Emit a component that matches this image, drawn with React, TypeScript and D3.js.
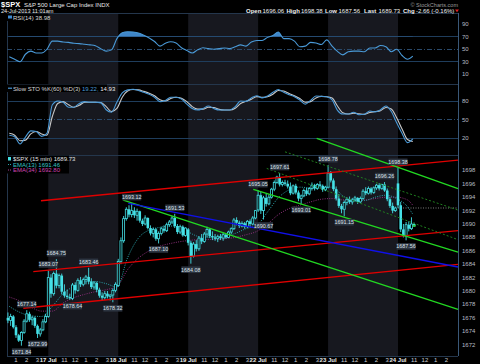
import React from "react";
import * as d3 from "d3";

// 15-min bars, index 0 = 17 Jul 9:30 (16 Jul afternoon is negative)
const firstBar = -15;
const opens = [
  1676.0, 1675.6, 1676.2, 1674.6, 1673.4, 1672.6, 1673.8, 1675.5, 1676.6, 1675.7, 1676.0, 1674.8, 1673.6, 1674.2, 1675.4,
  1676.2, 1682.0, 1679.6, 1682.6, 1680.8, 1682.3, 1679.9, 1679.3, 1679.1, 1678.9, 1680.9, 1680.1, 1681.6, 1681.0, 1681.7, 1682.1, 1681.4, 1680.6, 1681.2, 1680.2, 1679.3, 1679.0, 1679.6, 1679.2, 1679.4, 1680.1,
  1680.8, 1684.4, 1687.5, 1690.8, 1692.2, 1691.4, 1692.0, 1691.3, 1691.9, 1690.5, 1690.0, 1690.9, 1689.4, 1688.6, 1689.2, 1687.8, 1688.6, 1689.3, 1689.0, 1689.9, 1690.3, 1690.9, 1689.7, 1688.8, 1689.6, 1688.3,
  1689.2, 1687.2, 1685.2, 1687.0, 1686.3, 1687.9, 1687.4, 1688.5, 1689.2, 1688.2, 1688.0, 1687.8, 1688.1, 1687.9, 1688.4, 1688.0, 1688.8, 1689.3, 1690.6, 1690.2, 1689.7, 1690.1, 1689.6, 1690.4, 1690.0, 1690.9,
  1692.1, 1694.3, 1692.0, 1693.9, 1693.0, 1694.0, 1695.2, 1696.2, 1697.0, 1695.9, 1696.2, 1696.0, 1695.6, 1694.6, 1695.7, 1694.7, 1693.8, 1694.2, 1695.0, 1694.5, 1695.3, 1695.8, 1695.3, 1695.9, 1695.7, 1695.1,
  1695.5, 1697.6, 1696.5, 1695.2, 1693.8, 1692.7, 1692.2, 1693.2, 1693.7, 1693.3, 1693.6, 1693.9, 1693.3, 1693.8, 1694.9, 1694.6, 1695.3, 1694.7, 1695.4, 1695.8, 1695.3, 1695.9, 1695.0, 1693.7, 1692.7, 1692.0,
  1696.06, 1692.8, 1689.2, 1688.2, 1689.9, 1689.3, 1690.0,
];
const highs = [
  1676.8, 1676.6, 1676.4, 1674.9, 1673.6, 1674.0, 1675.8, 1677.14, 1676.9, 1676.3, 1676.2, 1675.0, 1674.5, 1675.8, 1676.6,
  1683.07, 1682.5, 1682.9, 1684.75, 1682.6, 1682.6, 1681.0, 1680.2, 1679.6, 1681.2, 1681.3, 1681.9, 1682.1, 1682.0, 1682.4, 1683.46, 1681.9, 1681.5, 1681.4, 1680.5, 1679.8, 1680.0, 1680.0, 1679.5, 1680.4, 1681.3,
  1684.8, 1688.0, 1691.2, 1692.5, 1692.8, 1693.12, 1692.5, 1692.3, 1692.0, 1690.8, 1691.3, 1691.0, 1689.8, 1689.5, 1689.4, 1688.9, 1689.6, 1689.8, 1690.2, 1690.6, 1691.2, 1691.53, 1690.0, 1689.9, 1689.8, 1689.5,
  1689.4, 1687.5, 1687.3, 1687.6, 1688.2, 1688.5, 1688.8, 1689.6, 1689.4, 1688.9, 1688.5, 1688.4, 1688.5, 1688.7, 1688.6, 1689.0, 1689.5, 1690.9, 1691.0, 1690.5, 1690.4, 1690.3, 1690.6, 1690.7, 1691.2, 1692.1,
  1695.05, 1694.8, 1694.2, 1694.5, 1694.4, 1695.4, 1696.5, 1697.2, 1697.61, 1696.5, 1696.6, 1696.5, 1696.2, 1695.9, 1696.0, 1695.0, 1694.4, 1695.3, 1695.4, 1695.5, 1696.2, 1696.0, 1696.1, 1696.4, 1695.9, 1695.7,
  1698.78, 1697.9, 1696.8, 1695.6, 1694.5, 1693.0, 1693.5, 1694.0, 1694.1, 1693.9, 1694.2, 1694.0, 1694.1, 1695.2, 1695.5, 1695.6, 1695.5, 1695.6, 1696.0, 1696.1, 1696.0, 1696.26, 1695.3, 1694.0, 1693.2, 1692.6,
  1698.38, 1693.3, 1690.0, 1690.3, 1690.4, 1691.0, 1690.2,
];
const lows = [
  1675.2, 1674.8, 1674.4, 1673.0, 1672.4, 1671.84, 1673.6, 1675.3, 1675.4, 1674.9, 1674.5, 1672.99, 1673.2, 1674.0, 1675.2,
  1676.0, 1679.0, 1679.3, 1680.4, 1680.4, 1679.5, 1679.0, 1678.8, 1678.7, 1678.64, 1679.6, 1679.9, 1680.6, 1680.7, 1681.0, 1681.0, 1680.3, 1680.2, 1679.8, 1679.0, 1678.6, 1678.7, 1678.9, 1678.6, 1678.32, 1679.8,
  1680.6, 1684.0, 1687.2, 1690.5, 1691.0, 1691.0, 1690.9, 1690.5, 1690.2, 1689.7, 1689.8, 1689.2, 1688.3, 1688.0, 1687.5, 1687.1, 1688.3, 1688.7, 1688.8, 1689.6, 1690.0, 1689.4, 1688.5, 1688.5, 1688.1, 1688.1,
  1686.8, 1684.08, 1685.0, 1685.9, 1686.0, 1687.0, 1687.2, 1688.0, 1687.9, 1687.6, 1687.5, 1687.3, 1687.6, 1687.5, 1687.8, 1687.9, 1688.5, 1689.1, 1689.8, 1689.4, 1689.5, 1689.3, 1689.4, 1689.6, 1689.8, 1690.7,
  1691.8, 1691.5, 1690.67, 1692.6, 1692.8, 1693.8, 1694.9, 1696.0, 1695.6, 1695.6, 1695.7, 1695.3, 1694.3, 1694.4, 1694.4, 1693.4, 1693.01, 1694.0, 1694.2, 1694.3, 1695.0, 1695.0, 1695.1, 1695.5, 1694.8, 1694.9,
  1695.3, 1696.2, 1694.9, 1693.5, 1692.4, 1691.6, 1691.15, 1692.8, 1693.0, 1692.9, 1693.3, 1693.0, 1693.1, 1693.6, 1694.3, 1694.4, 1694.4, 1694.5, 1695.1, 1695.0, 1695.1, 1694.8, 1693.4, 1692.4, 1691.6, 1691.8,
  1692.4, 1688.8, 1688.0, 1687.56, 1688.9, 1689.1, 1689.6,
];
const closes = [
  1675.6, 1676.2, 1674.6, 1673.4, 1672.6, 1673.8, 1675.5, 1676.6, 1675.7, 1676.0, 1674.8, 1673.6, 1674.2, 1675.4, 1676.2,
  1682.0, 1679.6, 1682.6, 1680.8, 1682.3, 1679.9, 1679.3, 1679.1, 1678.9, 1680.9, 1680.1, 1681.6, 1681.0, 1681.7, 1682.1, 1681.4, 1680.6, 1681.2, 1680.2, 1679.3, 1679.0, 1679.6, 1679.2, 1679.4, 1680.1, 1681.0,
  1684.4, 1687.5, 1690.8, 1692.2, 1691.4, 1692.0, 1691.3, 1691.9, 1690.5, 1690.0, 1690.9, 1689.4, 1688.6, 1689.2, 1687.8, 1688.6, 1689.3, 1689.0, 1689.9, 1690.3, 1690.9, 1689.7, 1688.8, 1689.6, 1688.3, 1689.4,
  1687.2, 1685.2, 1687.0, 1686.3, 1687.9, 1687.4, 1688.5, 1689.2, 1688.2, 1688.0, 1687.8, 1688.1, 1687.9, 1688.4, 1688.0, 1688.8, 1689.3, 1690.6, 1690.2, 1689.7, 1690.1, 1689.6, 1690.4, 1690.0, 1690.9, 1692.0,
  1694.3, 1692.0, 1693.9, 1693.0, 1694.0, 1695.2, 1696.2, 1697.0, 1695.9, 1696.2, 1696.0, 1695.6, 1694.6, 1695.7, 1694.7, 1693.8, 1694.2, 1695.0, 1694.5, 1695.3, 1695.8, 1695.3, 1695.9, 1695.7, 1695.1, 1695.5,
  1697.6, 1696.5, 1695.2, 1693.8, 1692.7, 1692.2, 1693.2, 1693.7, 1693.3, 1693.6, 1693.9, 1693.3, 1693.8, 1694.9, 1694.6, 1695.3, 1694.7, 1695.4, 1695.8, 1695.3, 1695.9, 1695.0, 1693.7, 1692.7, 1692.0, 1692.39,
  1692.8, 1689.2, 1688.2, 1689.9, 1689.3, 1690.0, 1689.73,
];

// indicators read every 2 bars (RSI, STO) / every 4 bars (EMAs)
const rsi = [38, 34, 30, 42, 47, 44, 44, 50, 63, 63, 61.5, 61, 59.5, 59, 58, 57, 55.5, 51, 47, 49, 67, 76.5, 78, 77.5, 76, 72.5, 68, 62.5, 55, 59.5, 62, 60, 52.5, 48, 44, 49, 52.5, 51, 50, 51, 52, 51, 54, 57, 55, 61.5, 64, 64, 69, 72, 77.5, 67, 67, 63, 54, 55, 61, 60, 57.5, 65, 55, 46.5, 41, 46, 47, 47, 46, 52, 52, 56, 54, 46, 50, 40, 34, 38.98];
const stoK = [25, 22.5, 11, 22, 32, 31, 23, 28, 74, 80, 78, 70, 70, 76, 79, 78, 78, 77, 66, 62, 78, 93, 98, 99, 97, 94, 91, 86, 79, 81, 86, 86, 83, 75, 68, 65.5, 68, 72, 68, 65.5, 65.5, 65.5, 71, 80, 79.5, 85, 88.5, 85, 88, 94, 98.5, 94, 90, 87, 81.6, 75, 81, 88, 87.5, 87, 82, 65, 59, 59, 62, 58, 58.6, 64, 62.5, 66, 72, 63, 45, 28, 13, 19.22];
const stoD = [28, 25, 16, 17, 27, 31, 27, 25, 55, 76, 79, 74, 70, 73, 78, 78, 78, 77.5, 71, 63, 68, 86, 96, 98.5, 98, 95.5, 92.5, 88.5, 82, 80, 84, 86, 84.5, 79, 71, 67, 67, 70, 69.5, 66.5, 65.5, 65.5, 68.5, 76, 79.5, 83, 87, 86, 87, 91, 97, 96, 92, 88.5, 84, 78, 79, 85, 87.5, 87, 85, 72, 61, 59, 60.5, 59.5, 58.5, 61.5, 63, 64.5, 69.5, 67, 53, 35, 18, 14.93];
const ema13 = [1677.7, 1676.8, 1676.3, 1676.2, 1677.7, 1679.6, 1680.7, 1681.4, 1681.4, 1681.1, 1680.6, 1685.0, 1687.9, 1689.1, 1689.5, 1689.7, 1689.5, 1688.5, 1688.0, 1688.1, 1688.2, 1688.6, 1689.3, 1689.8, 1691.8, 1693.9, 1695.1, 1695.5, 1695.4, 1695.5, 1695.5, 1694.2, 1693.5, 1693.5, 1694.0, 1694.3, 1693.8, 1692.6, 1691.46];
const ema34 = [1679.1, 1678.5, 1677.6, 1677.0, 1677.0, 1678.2, 1679.0, 1679.5, 1679.9, 1680.2, 1680.7, 1683.2, 1684.9, 1686.0, 1686.7, 1687.1, 1687.4, 1687.6, 1687.7, 1687.7, 1687.8, 1688.0, 1688.4, 1688.9, 1690.0, 1691.4, 1692.3, 1692.8, 1693.3, 1693.7, 1693.8, 1693.6, 1693.6, 1693.6, 1693.8, 1694.0, 1694.0, 1693.6, 1692.8];

const days = ["17 Jul", "18 Jul", "19 Jul", "22 Jul", "23 Jul", "24 Jul"];
const shadedDays = ["17 Jul", "19 Jul", "23 Jul"];
const hourLabels = ["11", "12", "1", "2", "3"];
const priceTicks = d3.range(1672, 1699, 2);
const rsiTicks = [90, 70, 50, 30, 10];
const stoTicks = [80, 50, 20];
const prevClose = 1692.39;

// annotated extremes: bar index, high or low
const marks: [number, string][] = [[-10, "L"], [-4, "L"], [-8, "H"], [0, "H"], [3, "H"], [9, "L"], [15, "H"], [24, "L"], [31, "H"], [41, "L"], [47, "H"], [53, "L"], [78, "H"], [80, "L"], [86, "H"], [94, "L"], [104, "H"], [110, "L"], [125, "H"], [130, "H"], [133, "L"]];

// trendlines: [bar, price, bar, price]
const redLines = [[-2.71, 1693.47, 152.3, 1699.53], [-5.58, 1682.89, 152.3, 1689.01], [-9.29, 1677.43, 152.3, 1683.96]];
const blueLines = [[29.74, 1693.08, 152.3, 1683.59]];
const greenLines = [[27.88, 1693.57, 152.3, 1677.26], [76.2, 1695.17, 152.3, 1685.82], [99.78, 1702.77, 152.3, 1695.29]];
const greenDotted = [[88.0, 1700.77, 152.3, 1692.08], [81.2, 1698.3, 152.3, 1687.66]];

const L = 7, R = 458, TOP = 13, STO_TOP = 84, P_TOP = 155, BOTTOM = 356;
const FONT = "Liberation Sans, Arial, sans-serif";
const CANDLE = "#45e0e6";

const x = d3.scaleLinear().domain([-15.35, 152.3]).range([L, R]);
const yP = d3.scaleLinear().domain([1670.3, 1700.3]).range([BOTTOM, P_TOP]);
const yR = d3.scaleLinear().domain([0, 100]).range([80.5, 18]);
const yS = d3.scaleLinear().domain([0, 100]).range([150.7, 88.6]);

const ind2 = rsi.map((_, k) => -14.5 + 2 * k);
const ind4 = ema13.map((_, k) => (k < ema13.length - 1 ? -14.5 + 4 * k : 135.5));

function App() {
  const bars = opens.map((o, k) => ({ i: firstBar + k, o, h: highs[k], l: lows[k], c: closes[k] }));
  const last = bars[bars.length - 1];

  const rsiLine = d3.line<number>().x((_, k) => x(ind2[k])).y((d) => yR(d)).curve(d3.curveMonotoneX);
  const rsiArea = d3.area<number>().x((_, k) => x(ind2[k])).y0(yR(70)).y1((d) => yR(d)).curve(d3.curveMonotoneX);
  const stoLine = d3.line<number>().x((_, k) => x(ind2[k])).y((d) => yS(d)).curve(d3.curveMonotoneX);
  const emaLine = d3.line<number>().x((_, k) => x(ind4[k])).y((d) => yP(d)).curve(d3.curveMonotoneX);

  const hourTicks: { t: number; s: string }[] = [];
  for (let d = -1; d < days.length; d++) {
    hourLabels.forEach((s, k) => {
      const t = d * 26 + 6 + 4 * k;
      if (x(t) > 10 && x(t) < 452) hourTicks.push({ t, s });
    });
  }

  const seg = (ln: number[], color: string, w: number, dash?: string, key?: string) => (
    <line key={key} x1={x(ln[0])} y1={yP(ln[1])} x2={x(ln[2])} y2={yP(ln[3])} stroke={color} strokeWidth={w} strokeDasharray={dash} />
  );

  return (
    <div style={{ position: "absolute", left: 0, top: 0 }}>
      <svg width={480} height={364} style={{ display: "block", background: "#000", fontFamily: FONT }}>
        <rect width={480} height={364} fill="#000" />
        <defs>
          <clipPath id="above70">
            <rect x={L} y={TOP} width={R - L} height={yR(70) - TOP} />
          </clipPath>
        </defs>

        {/* day shading */}
        {days.map((d, k) =>
          shadedDays.includes(d) ? (
            <rect key={d} x={x(k * 26)} y={TOP} width={x((k + 1) * 26) - x(k * 26)} height={BOTTOM - TOP} fill="#17181f" />
          ) : null
        )}

        {/* panel frames */}
        <g stroke="#24364c" strokeWidth={1} shapeRendering="crispEdges">
          <line x1={L} x2={R} y1={TOP} y2={TOP} />
          <line x1={L} x2={R} y1={STO_TOP} y2={STO_TOP} />
          <line x1={L} x2={R} y1={P_TOP} y2={P_TOP} />
          <line x1={L} x2={R} y1={BOTTOM} y2={BOTTOM} />
          <line x1={L} x2={L} y1={TOP} y2={BOTTOM} />
          <line x1={R} x2={R} y1={TOP} y2={BOTTOM} stroke="#3a5878" />
        </g>
        <g strokeWidth={1} shapeRendering="crispEdges">
          <line x1={L} x2={R} y1={yR(70)} y2={yR(70)} stroke="#1f3d5c" />
          <line x1={L} x2={R} y1={yR(30)} y2={yR(30)} stroke="#1f3d5c" />
          <line x1={L} x2={R} y1={yR(50)} y2={yR(50)} stroke="#2a4a6c" strokeDasharray="5,2,1,2" />
          <line x1={L} x2={R} y1={yS(80)} y2={yS(80)} stroke="#1f3d5c" />
          <line x1={L} x2={R} y1={yS(20)} y2={yS(20)} stroke="#1f3d5c" />
          <line x1={L} x2={R} y1={yS(50)} y2={yS(50)} stroke="#2a4a6c" strokeDasharray="5,2,1,2" />
        </g>

        {/* RSI */}
        <path d={rsiArea(rsi) || ""} fill="#3f86c8" clipPath="url(#above70)" />
        <path d={rsiLine(rsi) || ""} fill="none" stroke="#4a9ad8" strokeWidth={1.1} />

        {/* Slow STO */}
        <path d={stoLine(stoD) || ""} fill="none" stroke="#c8c8c8" strokeWidth={1.1} />
        <path d={stoLine(stoK) || ""} fill="none" stroke="#4a9ad8" strokeWidth={1.1} />

        {/* previous close */}
        <line x1={x(130)} x2={R} y1={yP(prevClose)} y2={yP(prevClose)} stroke="#9a9a9a" strokeWidth={0.8} strokeDasharray="1,1.5" />

        {/* EMAs */}
        <path d={emaLine(ema34) || ""} fill="none" stroke="#8e2f7c" strokeWidth={1} strokeDasharray="1,1.3" />
        <path d={emaLine(ema13) || ""} fill="none" stroke="#2aa3aa" strokeWidth={1} strokeDasharray="1,1.3" />

        {/* candles */}
        {bars.map((b) => {
          const cx = x(b.i);
          const top = yP(Math.max(b.o, b.c));
          const hgt = Math.max(0.8, Math.abs(yP(b.o) - yP(b.c)));
          const up = b.c >= b.o;
          return (
            <g key={b.i}>
              <line x1={cx} x2={cx} y1={yP(b.h)} y2={yP(b.l)} stroke={CANDLE} strokeWidth={0.9} />
              {up ? (
                <rect x={cx - 1} y={top} width={2} height={hgt} fill="#000" stroke={CANDLE} strokeWidth={0.8} />
              ) : (
                <rect x={cx - 1.3} y={top} width={2.6} height={hgt} fill={CANDLE} />
              )}
            </g>
          );
        })}
        <rect x={x(last.i) - 1.5} y={yP(last.c) - 1} width={3} height={2} fill="#2ccc44" />

        {/* trendlines */}
        {redLines.map((ln, k) => seg(ln, "#e00000", 1.3, undefined, "r" + k))}
        {greenDotted.map((ln, k) => seg(ln, "#1f7f1f", 1, "2,2", "gd" + k))}
        {greenLines.map((ln, k) => seg(ln, "#22d822", 1.3, undefined, "g" + k))}
        {blueLines.map((ln, k) => seg(ln, "#1010e8", 1.5, undefined, "b" + k))}

        {/* high/low labels */}
        {marks.map(([i, kind]) => {
          const k = i - firstBar;
          const v = kind === "H" ? highs[k] : lows[k];
          const cy = kind === "H" ? yP(v) - 6 : yP(v) + 6;
          return (
            <g key={"m" + i}>
              <rect x={x(i) - 9.5} y={cy - 3.3} width={19} height={6.6} fill="#2c3440" />
              <text x={x(i)} y={cy + 2} fontSize={5.4} fill="#dde3ea" textAnchor="middle">{v.toFixed(2)}</text>
            </g>
          );
        })}

        {/* right axis */}
        <g fontSize={6} fill="#b8bcc4">
          {rsiTicks.map((t) => <text key={"r" + t} x={462} y={yR(t) + 2}>{t}</text>)}
          {stoTicks.map((t) => <text key={"s" + t} x={462} y={yS(t) + 2}>{t}</text>)}
          {priceTicks.map((t) => <text key={"p" + t} x={462} y={yP(t) + 2}>{t}</text>)}
        </g>

        {/* bottom axis */}
        <g fontSize={6} fill="#c8ccd2" textAnchor="middle">
          {hourTicks.map((h) => <text key={"h" + h.t} x={x(h.t)} y={361.5}>{h.s}</text>)}
          {days.map((d, k) => <text key={"d" + d} x={x(k * 26)} y={361.5} fontWeight="bold" fill="#e8e8e8">{d}</text>)}
        </g>

        {/* legends */}
        <rect x={L} y={TOP + 0.5} width={41} height={7.5} fill="#000" />
        <rect x={8} y={15.5} width={4} height={3} fill="#3f8ad0" />
        <text x={13} y={19.6} fontSize={6} fill="#d8d8d8">RSI(14) 38.98</text>

        <rect x={L} y={STO_TOP + 0.5} width={100} height={7.5} fill="#000" />
        <line x1={8} x2={12} y1={88.2} y2={88.2} stroke="#4a9ad8" strokeWidth={1.2} />
        <text x={13} y={90.6} fontSize={6} fill="#d8d8d8">
          Slow STO %K(60) %D(3) <tspan fill="#4a9ad8">19.22,</tspan> <tspan fill="#e8e8e8">14.93</tspan>
        </text>

        <rect x={L} y={P_TOP + 0.5} width={62} height={18} fill="#000" />
        <rect x={8} y={157} width={3} height={3.5} fill={CANDLE} />
        <text x={13} y={160.8} fontSize={6} fill="#e0e0e0">$SPX (15 min) 1689.73</text>
        <line x1={8} x2={12} y1={164.5} y2={164.5} stroke="#2aa3aa" strokeWidth={1} strokeDasharray="1,1" />
        <text x={13} y={166.6} fontSize={6} fill="#36c0c4">EMA(13) 1691.46</text>
        <line x1={8} x2={12} y1={170} y2={170} stroke="#b03a98" strokeWidth={1} strokeDasharray="1,1" />
        <text x={13} y={172.2} fontSize={6} fill="#cf45b0">EMA(34) 1692.80</text>

        {/* header */}
        <text x={1} y={6.8} fontSize={7.5} fontWeight="bold" fill="#fff">$SPX</text>
        <text x={24} y={6.8} fontSize={6} fill="#e8e8e8">S&amp;P 500 Large Cap Index  INDX</text>
        <text x={1} y={13.2} fontSize={5.6} fill="#e8e8e8">24-Jul-2013 11:01am</text>
        <text x={458} y={6.5} fontSize={5.5} fill="#9a9a9a" textAnchor="end">© StockCharts.com</text>
        <g fontSize={6} fill="#f0f0f0">
          <text x={246} y={12.6} fontWeight="bold">Open</text>
          <text x={262.5} y={12.6}>1696.06</text>
          <text x={286.5} y={12.6} fontWeight="bold">High</text>
          <text x={301} y={12.6}>1698.38</text>
          <text x={325} y={12.6} fontWeight="bold">Low</text>
          <text x={338.5} y={12.6}>1687.56</text>
          <text x={364} y={12.6} fontWeight="bold">Last</text>
          <text x={378.5} y={12.6}>1689.73</text>
          <text x={403} y={12.6} fontWeight="bold">Chg</text>
          <text x={416} y={12.6}>-2.66 (-0.16%)</text>
        </g>
        <path d="M455,9.5 L459,9.5 L457,12.3 Z" fill="#e02020" />
      </svg>
    </div>
  );
}

export default App;
